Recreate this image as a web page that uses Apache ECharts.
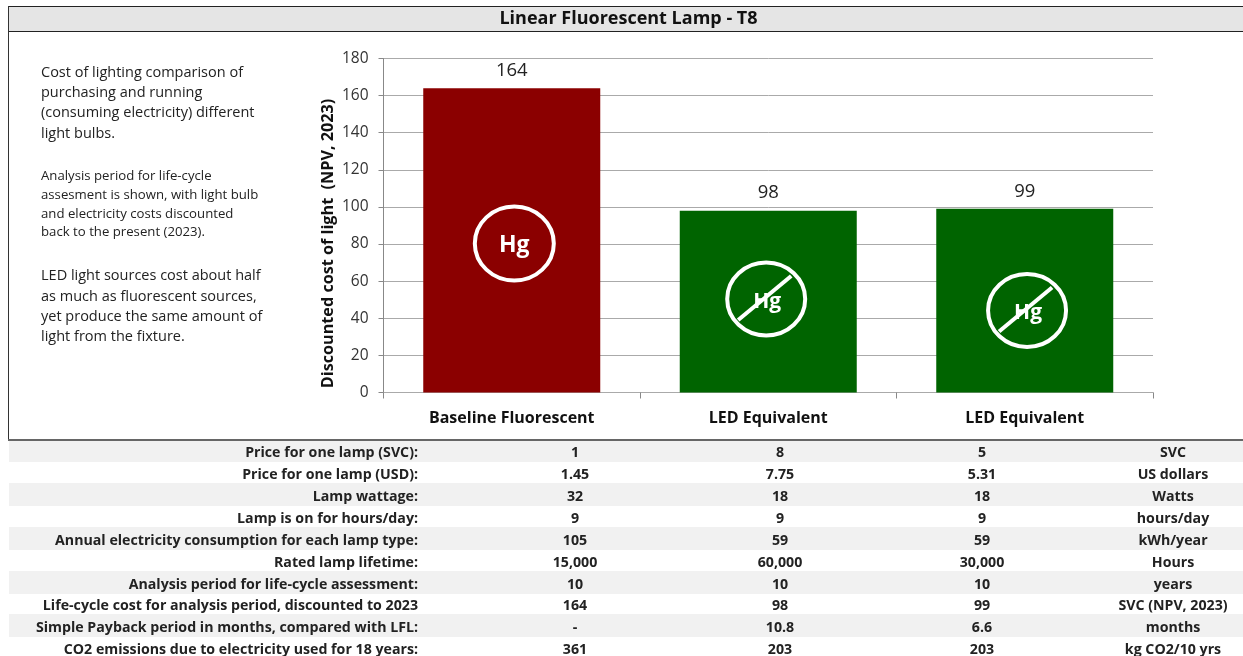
<!DOCTYPE html>
<html><head><meta charset="utf-8">
<style>html,body{margin:0;padding:0;background:#fff}#c{width:1243px;height:656px}</style>
<script src="https://cdn.jsdelivr.net/npm/echarts@6/dist/echarts.min.js"></script>
</head><body><div id="c"></div>
<script>
const FONT = '"Open Sans","Noto Sans",sans-serif';
const chartTitle = 'Linear Fluorescent Lamp - T8';
const categories = ['Baseline Fluorescent', 'LED Equivalent', 'LED Equivalent'];
const costs = [164, 98, 99];
const barColors = ['#8b0000', '#006400', '#006400'];
const yAxisName = 'Discounted cost of light  (NPV, 2023)';
const iconX = [0.51, 1.492, 2.509];
const iconY = [80.3, 50.4, 44.2];
const iconSlash = [0, 1, 1];
const noteA = ['Cost of lighting comparison of', 'purchasing and running', '(consuming electricity) different', 'light bulbs.'];
const noteB = ['Analysis period for life-cycle', 'assesment is shown, with light bulb', 'and electricity costs discounted', 'back to the present (2023).'];
const noteC = ['LED light sources cost about half', 'as much as fluorescent sources,', 'yet produce the same amount of', 'light from the fixture.'];
const rowLabels = ['Price for one lamp (SVC):', 'Price for one lamp (USD):', 'Lamp wattage:', 'Lamp is on for hours/day:', 'Annual electricity consumption for each lamp type:', 'Rated lamp lifetime:', 'Analysis period for life-cycle assessment:', 'Life-cycle cost for analysis period, discounted to 2023', 'Simple Payback period in months, compared with LFL:', 'CO2 emissions due to electricity used for 18 years:'];
const colBaseline = ['1', '1.45', '32', '9', '105', '15,000', '10', '164', '-', '361'];
const colLedA = ['8', '7.75', '18', '9', '59', '60,000', '10', '98', '10.8', '203'];
const colLedB = ['5', '5.31', '18', '9', '59', '30,000', '10', '99', '6.6', '203'];
const colUnits = ['SVC', 'US dollars', 'Watts', 'hours/day', 'kWh/year', 'Hours', 'years', 'SVC (NPV, 2023)', 'months', 'kg CO2/10 yrs'];
const rowY = [453, 475, 497, 519, 541, 563, 585, 606, 628, 650];
const stripes = [[441, 21], [483, 23], [527, 23], [571, 23], [614, 23]];

const g = [];
const txt = (x, y, s, size, o) => g.push(Object.assign({type: 'text', x, y, silent: true, z: 5, style: Object.assign({text: s, fontFamily: FONT, fontSize: size, fill: '#222', textVerticalAlign: 'middle'}, o || {})}));
const rect = (x, y, w, h, fill) => g.push({type: 'rect', silent: true, z: 0, shape: {x, y, width: w, height: h}, style: {fill}});
rect(8, 7, 1235, 24, '#e5e5e5');
rect(8, 6, 1235, 1, '#222');
rect(8, 31, 1235, 1, '#222');
rect(8, 6, 1, 434, '#333');
rect(8, 439, 1235, 2, '#666');
stripes.forEach(s => rect(9, s[0], 1234, s[1], '#f1f1f1'));
txt(628.5, 19, chartTitle, 18, {fontWeight: 'bold', textAlign: 'center', fill: '#111'});
noteA.forEach((s, i) => txt(41, [72.5, 93, 113, 133.5][i], s, 14.5));
noteB.forEach((s, i) => txt(41, [176, 195, 214, 232.5][i], s, 13.2));
noteC.forEach((s, i) => txt(41, [276, 296.5, 316.5, 336.5][i], s, 14.5));
rowLabels.forEach((s, i) => {
  const y = rowY[i], b = {fontWeight: 'bold'}, c = {fontWeight: 'bold', textAlign: 'center'};
  txt(418, y, s, 14.2, Object.assign({textAlign: 'right'}, b));
  txt(575, y, colBaseline[i], 14.2, c);
  txt(780, y, colLedA[i], 14.2, c);
  txt(982, y, colLedB[i], 14.2, c);
  txt(1173, y, colUnits[i], 14.2, c);
});

const chart = echarts.init(document.getElementById('c'), null, {renderer: 'canvas'});
chart.setOption({
  animation: false,
  backgroundColor: '#fff',
  textStyle: {fontFamily: FONT},
  grid: {left: 383.5, right: 90, top: 58.5, height: 334, containLabel: false},
  xAxis: [
    {type: 'category', data: categories, axisLine: {lineStyle: {color: '#aaa', width: 1}},
     axisTick: {show: true, length: 6, lineStyle: {color: '#888'}},
     axisLabel: {color: '#111', fontWeight: 'bold', fontSize: 16, margin: 18, fontFamily: FONT, interval: 0}},
    {type: 'value', min: 0, max: 3, show: false}
  ],
  yAxis: {type: 'value', min: 0, max: 180, interval: 20,
    name: yAxisName, nameLocation: 'middle', nameGap: 47, nameRotate: 90, nameMoveOverlap: false,
    nameTextStyle: {color: '#111', fontWeight: 'bold', fontSize: 16.2, fontFamily: FONT, padding: [0, 36, 0, 0]},
    axisLine: {show: true, lineStyle: {color: '#888'}},
    axisTick: {show: true, length: 5, lineStyle: {color: '#888'}},
    axisLabel: {color: '#333', fontSize: 15.5, margin: 15, fontFamily: FONT},
    splitLine: {show: true, lineStyle: {color: '#aaa', width: 1}}},
  graphic: g,
  series: [
    {type: 'bar', data: costs.map((v, i) => ({value: v, itemStyle: {color: barColors[i]}})), barWidth: 177,
     z: 3,
     label: {show: true, position: 'top', distance: 8, color: '#222', fontSize: 18.5, fontFamily: FONT}},
    {type: 'custom', xAxisIndex: 1, z: 6, silent: true,
     data: iconX.map((x, i) => [x, iconY[i], iconSlash[i]]),
     encode: {x: 0, y: 1},
     renderItem(params, api) {
       const p = api.coord([api.value(0), api.value(1)]);
       const slash = api.value(2);
       const rx = slash ? 39 : 39.5, ry = slash ? 36.5 : 37;
       const kids = [
         {type: 'ellipse', shape: {cx: p[0], cy: p[1], rx, ry}, style: {fill: 'none', stroke: '#fff', lineWidth: 4}},
         {type: 'text', x: p[0] + (slash ? 1 : 0), y: p[1] + (slash ? 3 : 2), style: {text: 'Hg', fill: '#fff', fontFamily: FONT, fontWeight: 'bold', fontSize: slash ? 21 : 23, textAlign: 'center', textVerticalAlign: 'middle'}}
       ];
       if (slash) kids.push({type: 'line', shape: {x1: p[0] - 28, y1: p[1] + 21, x2: p[0] + 25, y2: p[1] - 23}, style: {stroke: '#fff', lineWidth: 4}});
       return {type: 'group', children: kids};
     }}
  ]
});
</script></body></html>
